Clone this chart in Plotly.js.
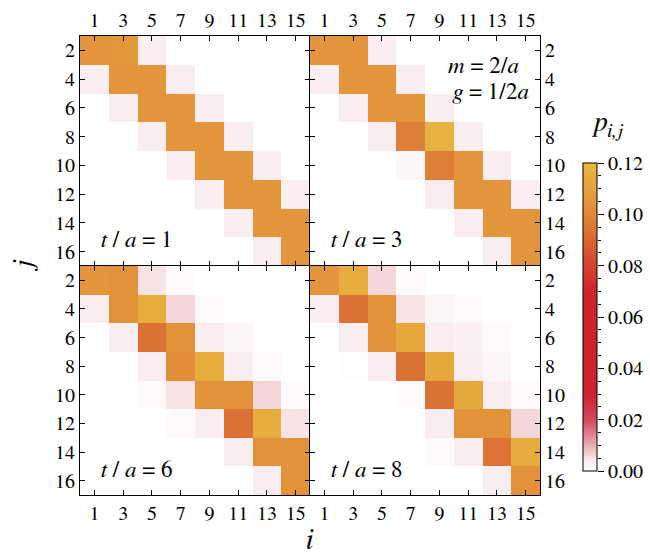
<!DOCTYPE html>
<html>
<head>
<meta charset="utf-8">
<script src="https://cdn.plot.ly/plotly-3.0.1.min.js"></script>
<style>
  html, body { margin: 0; padding: 0; background: #fff; }
  #chart { width: 650px; height: 558px; }
</style>
</head>
<body>
<div id="chart"></div>
<script>
// Site indices: odd sites along i (columns), even sites along j (rows)
const siteI = [1, 3, 5, 7, 9, 11, 13, 15];
const siteJ = [2, 4, 6, 8, 10, 12, 14, 16];

// Pair probabilities p_{i,j}; rows follow siteJ, columns follow siteI
const pT1 = [
  [0.105, 0.106, 0.004, 0, 0, 0, 0, 0],
  [0.004, 0.105, 0.105, 0.004, 0, 0, 0, 0],
  [0, 0.004, 0.105, 0.105, 0.004, 0, 0, 0],
  [0, 0, 0.004, 0.105, 0.105, 0.004, 0, 0],
  [0, 0, 0, 0.004, 0.105, 0.105, 0.004, 0],
  [0, 0, 0, 0, 0.004, 0.105, 0.105, 0.004],
  [0, 0, 0, 0, 0, 0.004, 0.105, 0.105],
  [0, 0, 0, 0, 0, 0, 0.004, 0.105]
];
const pT3 = [
  [0.105, 0.105, 0.004, 0, 0, 0, 0, 0],
  [0.004, 0.105, 0.105, 0.004, 0, 0, 0, 0],
  [0, 0.004, 0.105, 0.105, 0.004, 0, 0, 0],
  [0, 0, 0.004, 0.097, 0.117, 0.004, 0, 0],
  [0, 0, 0, 0.002, 0.097, 0.105, 0.004, 0],
  [0, 0, 0, 0, 0.004, 0.105, 0.105, 0.004],
  [0, 0, 0, 0, 0, 0.004, 0.105, 0.105],
  [0, 0, 0, 0, 0, 0, 0.004, 0.105]
];
const pT6 = [
  [0.105, 0.104, 0.005, 0.001, 0, 0, 0, 0],
  [0.004, 0.104, 0.115, 0.006, 0.001, 0, 0, 0],
  [0, 0.004, 0.093, 0.104, 0.004, 0.002, 0, 0],
  [0, 0, 0.004, 0.102, 0.115, 0.004, 0.001, 0],
  [0, 0, 0.001, 0.005, 0.104, 0.104, 0.006, 0.001],
  [0, 0, 0, 0.001, 0.004, 0.093, 0.115, 0.005],
  [0, 0, 0, 0, 0, 0.004, 0.104, 0.104],
  [0, 0, 0, 0, 0, 0, 0.004, 0.104]
];
const pT8 = [
  [0.105, 0.115, 0.006, 0.001, 0, 0, 0, 0],
  [0.004, 0.093, 0.104, 0.005, 0.002, 0.001, 0, 0],
  [0, 0.004, 0.104, 0.112, 0.004, 0.003, 0.001, 0],
  [0, 0.0005, 0.004, 0.093, 0.113, 0.004, 0.002, 0],
  [0, 0, 0, 0.001, 0.093, 0.113, 0.004, 0.001],
  [0, 0, 0, 0, 0.004, 0.104, 0.104, 0.006],
  [0, 0, 0, 0, 0.001, 0.004, 0.094, 0.114],
  [0, 0, 0, 0, 0, 0, 0.004, 0.104]
];

const panelTimes = ['1', '3', '6', '8'];
const panelData = [pT1, pT3, pT6, pT8];
const colorTicks = [0, 0.02, 0.04, 0.06, 0.08, 0.10, 0.12];

const W = 650, H = 558;
const FONT = 'Nimbus Roman, FreeSerif, Tinos, Noto Serif, DejaVu Serif';

const pScale = [
  [0.000, '#ffffff'],
  [0.033, '#faedef'],
  [0.085, '#e9aab2'],
  [0.167, '#d24858'],
  [0.250, '#cd2330'],
  [0.580, '#d0232d'],
  [0.680, '#d5482f'],
  [0.830, '#e08838'],
  [1.000, '#e8b940']
];

// pixel frame of the 2x2 grid and of the colour bar
const px = { left: 80, mid: 310, right: 540, top: 36, vmid: 266, bottom: 495 };
const bar = { left: 583, right: 597, top: 163, bottom: 471 };
const fx = v => v / W;
const fy = v => 1 - v / H;

const traces = panelData.map((z, k) => ({
  type: 'heatmap',
  x: siteI,
  y: siteJ,
  z: z,
  zmin: 0,
  zmax: 0.12,
  colorscale: pScale,
  xaxis: k === 0 ? 'x' : 'x' + (k + 1),
  yaxis: k === 0 ? 'y' : 'y' + (k + 1),
  hoverinfo: 'skip',
  showscale: k === 0,
  colorbar: k === 0 ? {
    thickness: bar.right - bar.left,
    thicknessmode: 'pixels',
    len: bar.bottom - bar.top,
    lenmode: 'pixels',
    x: fx(bar.left),
    xanchor: 'left',
    xpad: 0,
    y: fy((bar.top + bar.bottom) / 2),
    yanchor: 'middle',
    ypad: 0,
    outlinewidth: 1,
    outlinecolor: '#000',
    ticks: '',
    showticklabels: false
  } : undefined
}));

// empty carrier for the colour-bar tick axis
traces.push({ type: 'scatter', x: [], y: [], xaxis: 'x5', yaxis: 'y5', hoverinfo: 'skip', showlegend: false });

const axisBase = {
  showline: true, linecolor: '#000', linewidth: 1,
  mirror: 'allticks', ticks: 'inside', ticklen: 5, tickwidth: 1, tickcolor: '#000',
  showgrid: false, zeroline: false, fixedrange: true,
  tickfont: { family: FONT, size: 20, color: '#000' }
};
const xAx = (dom, anchor, side) => Object.assign({}, axisBase, {
  domain: dom, anchor: anchor, side: side, range: [0, 16],
  tickmode: 'array', tickvals: siteI, ticktext: siteI.map(String)
});
const yAx = (dom, anchor, side) => Object.assign({}, axisBase, {
  domain: dom, anchor: anchor, side: side, range: [17, 1],
  tickmode: 'array', tickvals: siteJ, ticktext: siteJ.map(String)
});

const colL = [fx(px.left), fx(px.mid)], colR = [fx(px.mid), fx(px.right)];
const rowT = [fy(px.vmid), fy(px.top)], rowB = [fy(px.bottom), fy(px.vmid)];

const annFont = { family: FONT, size: 23, color: '#000' };
const panelOrigin = [[px.left, px.top], [px.mid, px.top], [px.left, px.vmid], [px.mid, px.vmid]];
const annotations = panelTimes.map((t, k) => ({
  xref: 'paper', yref: 'paper',
  x: fx(panelOrigin[k][0] + 19), y: fy(panelOrigin[k][1] + 204),
  xanchor: 'left', yanchor: 'middle', showarrow: false,
  text: '<i>t</i> / <i>a</i> = ' + t, font: annFont
}));
annotations.push(
  { xref: 'paper', yref: 'paper', x: fx(446), y: fy(66), xanchor: 'left', yanchor: 'middle',
    showarrow: false, text: '<i>m</i> = 2/<i>a</i>', font: annFont },
  { xref: 'paper', yref: 'paper', x: fx(450), y: fy(93), xanchor: 'left', yanchor: 'middle',
    showarrow: false, text: '<i>g</i> = 1/2<i>a</i>', font: annFont },
  { xref: 'paper', yref: 'paper', x: fx(310), y: fy(557), xanchor: 'center', yanchor: 'bottom',
    showarrow: false, text: '<i>i</i>', font: { family: FONT, size: 29, color: '#000' } },
  { xref: 'paper', yref: 'paper', x: fx(24), y: fy(266), xanchor: 'center', yanchor: 'middle',
    showarrow: false, textangle: -90, text: '<i>j</i>', font: { family: FONT, size: 29, color: '#000' } },
  { xref: 'paper', yref: 'paper', x: fx(607), y: fy(125), xanchor: 'center', yanchor: 'middle',
    showarrow: false, text: '<i>p</i><sub><i>i,j</i></sub>', font: { family: FONT, size: 28, color: '#000' } }
);

const layout = {
  width: W, height: H,
  margin: { l: 0, r: 0, t: 0, b: 0, pad: 0 },
  paper_bgcolor: '#fff', plot_bgcolor: '#fff',
  showlegend: false,
  font: { family: FONT, color: '#000' },
  xaxis: xAx(colL, 'y', 'top'),
  yaxis: yAx(rowT, 'x', 'left'),
  xaxis2: xAx(colR, 'y2', 'top'),
  yaxis2: yAx(rowT, 'x2', 'right'),
  xaxis3: xAx(colL, 'y3', 'bottom'),
  yaxis3: yAx(rowB, 'x3', 'left'),
  xaxis4: xAx(colR, 'y4', 'bottom'),
  yaxis4: yAx(rowB, 'x4', 'right'),
  xaxis5: { domain: [fx(bar.left), fx(bar.right)], anchor: 'y5', visible: false, range: [0, 1], fixedrange: true },
  yaxis5: {
    domain: [fy(bar.bottom), fy(bar.top)], anchor: 'x5', side: 'right',
    range: [0, 0.12], showline: false, showgrid: false, zeroline: false, fixedrange: true,
    tickmode: 'array', tickvals: colorTicks, ticktext: colorTicks.map(v => v.toFixed(2)),
    ticks: 'outside', ticklen: 6, tickwidth: 1, tickcolor: '#000',
    tickfont: { family: FONT, size: 20, color: '#000' },
    minor: { tickmode: 'linear', tick0: 0, dtick: 0.005, ticks: 'outside', ticklen: 3, tickwidth: 1, tickcolor: '#000' }
  },
  annotations: annotations
};

Plotly.newPlot('chart', traces, layout, { staticPlot: true, displayModeBar: false });
</script>
</body>
</html>
